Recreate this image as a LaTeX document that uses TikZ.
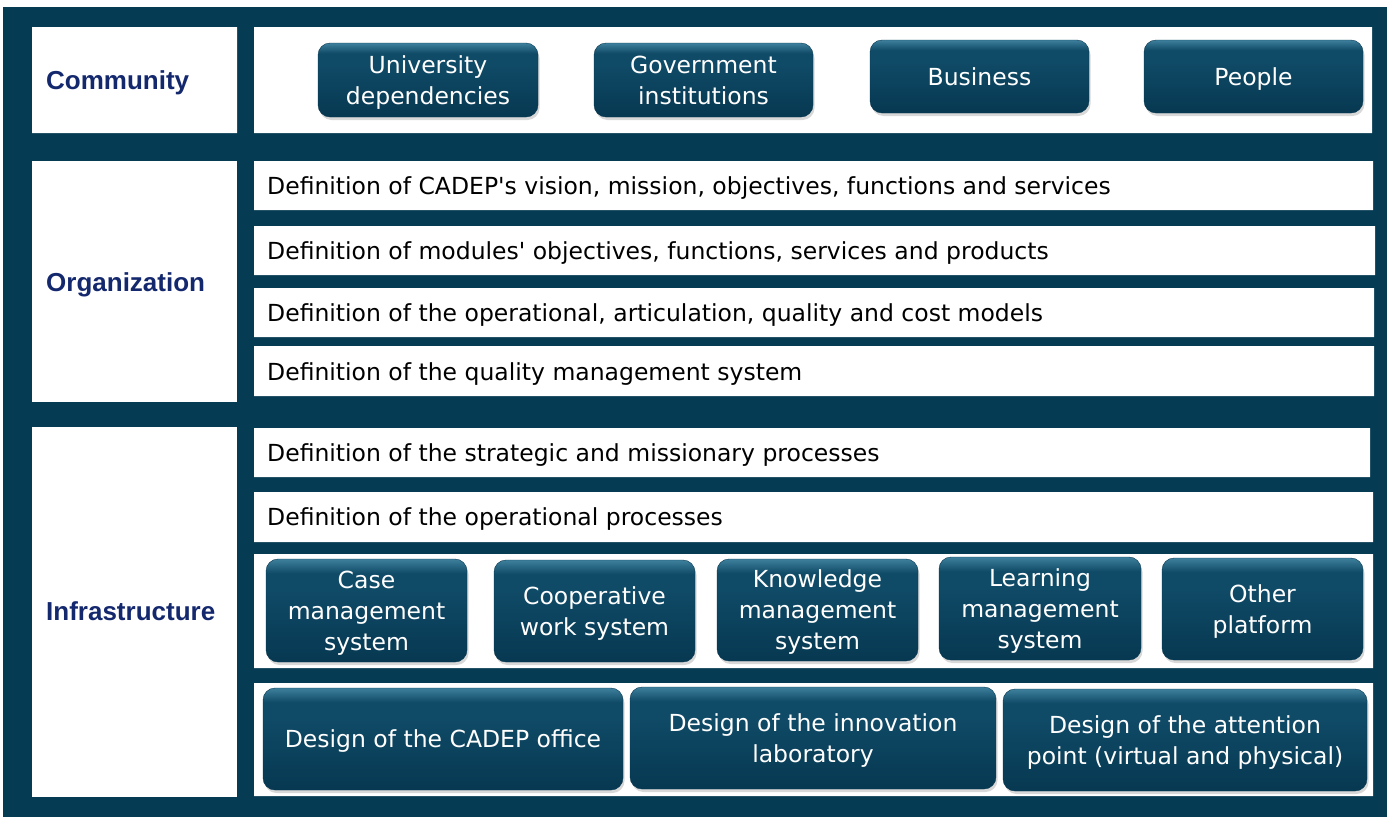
\documentclass[tikz,border=0pt]{standalone}
\usepackage{fontspec}
\setmainfont{DejaVu Sans}
\newfontfamily\lblfont{Liberation Sans}
\usetikzlibrary{shadows}
\definecolor{frame}{HTML}{053B53}
\definecolor{lblblue}{HTML}{14286E}
\definecolor{btntop}{HTML}{3E809D}
\definecolor{btnmid}{HTML}{0F4A66}
\definecolor{btnbot}{HTML}{073851}
\pgfdeclareverticalshading{btnshade}{100bp}{color(0bp)=(btnbot); color(25bp)=(btnbot);
  color(60bp)=(btnmid); color(68bp)=(btnmid); color(75bp)=(btntop); color(100bp)=(btntop)}

\begin{document}
\begin{tikzpicture}[x=1pt,y=-1pt,
  lbl/.style={anchor=base west,inner sep=0pt,text=lblblue,font=\lblfont\bfseries\fontsize{26}{30}\selectfont},
  row/.style={anchor=base west,inner sep=0pt,font=\fontsize{23.5}{28}\selectfont},
  btn/.style={rounded corners=12pt,draw=btnbot,shading=btnshade,
    text=white,align=center,inner sep=0pt,text depth=0pt,font=\fontsize{23.5}{31}\selectfont,
    drop shadow={opacity=0.3,shadow xshift=1.5pt,shadow yshift=-3pt}}]

\useasboundingbox (0,0) rectangle (1387,817);
\fill[white] (0,0) rectangle (1387,817);
\fill[frame] (3,7) rectangle (1387,817);

% white panels
\fill[white] (32,27) rectangle (237,133) (254,27) rectangle (1372,133);
\fill[white] (32,161) rectangle (237,402);
\fill[white] (254,161) rectangle (1373,210) (254,226) rectangle (1375,275)
  (254,288) rectangle (1374,337) (254,346) rectangle (1374,396);
\fill[white] (32,427) rectangle (237,797);
\fill[white] (254,428) rectangle (1370,477) (254,492) rectangle (1373,542)
  (254,554) rectangle (1373,668) (254,683) rectangle (1373,796);

\node[lbl] (comm) at (46,89.5) {Community};
\node[lbl] (org) at (46,291) {Organization};
\node[lbl] (infra) at (46,620.5) {Infrastructure};

\node[btn,minimum width=220,minimum height=74] (c1) at (428,80) {University\\dependencies};
\node[btn,minimum width=219,minimum height=74] (c2) at (703.5,80) {Government\\institutions};
\node[btn,minimum width=219,minimum height=73] (c3) at (979.5,76.5) {Business};
\node[btn,minimum width=219,minimum height=73] (c4) at (1253.5,76.5) {People};

\node[row] (o1) at (267,194) {Definition of CADEP\textquotesingle s vision, mission, objectives, functions and services};
\node[row] (o2) at (267,259) {Definition of modules\textquotesingle\ objectives, functions, services and products};
\node[row] (o3) at (267,321) {Definition of the operational, articulation, quality and cost models};
\node[row] (o4) at (267,380) {Definition of the quality management system};

\node[row] (p1) at (267,461) {Definition of the strategic and missionary processes};
\node[row] (p2) at (267,525.5) {Definition of the operational processes};

\node[btn,minimum width=201,minimum height=103] (s1) at (366.5,610.5) {Case\\management\\system};
\node[btn,minimum width=201,minimum height=102] (s2) at (594.5,611) {Cooperative\\work system};
\node[btn,minimum width=201,minimum height=102] (s3) at (817.5,610) {Knowledge\\management\\system};
\node[btn,minimum width=202,minimum height=103] (s4) at (1040,608.5) {Learning\\management\\system};
\node[btn,minimum width=201,minimum height=102] (s5) at (1262.5,609) {Other\\platform};

\node[btn,minimum width=360,minimum height=102] (d1) at (443,739) {Design of the CADEP office};
\node[btn,minimum width=366,minimum height=102] (d2) at (813,738) {Design of the innovation\\laboratory};
\node[btn,minimum width=364,minimum height=102] (d3) at (1185,740) {Design of the attention\\point (virtual and physical)};

\end{tikzpicture}
\end{document}
